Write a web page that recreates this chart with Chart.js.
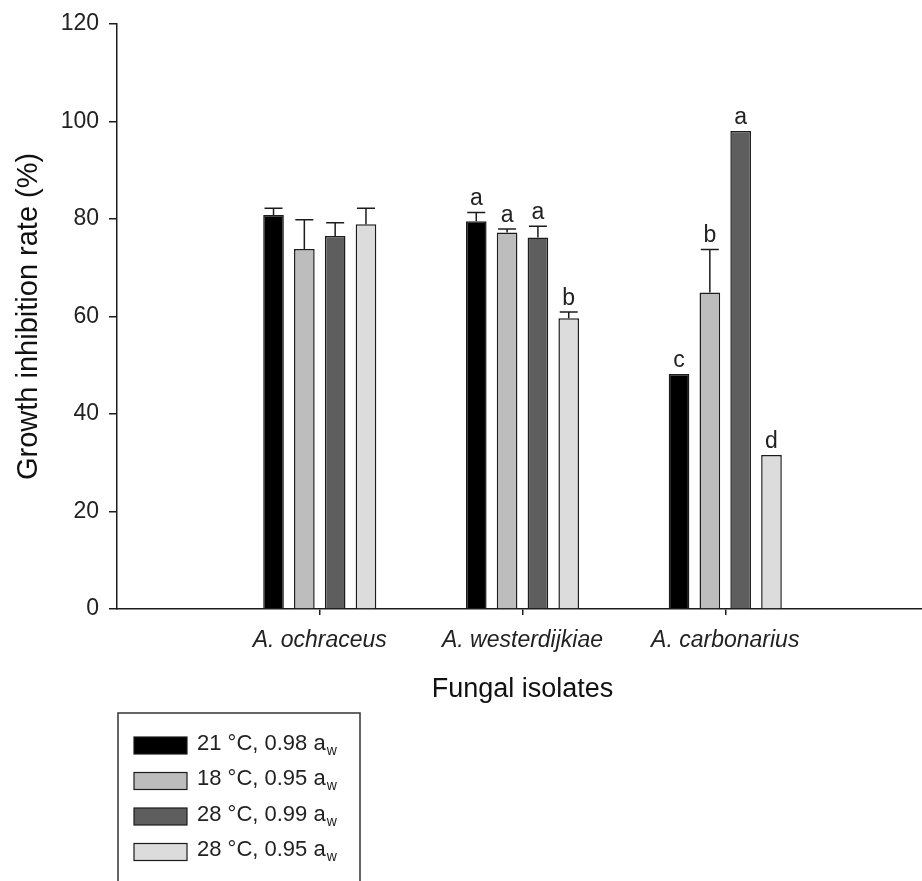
<!DOCTYPE html>
<html>
<head>
<meta charset="utf-8">
<script src="https://cdn.jsdelivr.net/npm/chart.js@4.4.0/dist/chart.umd.min.js"></script>
<style>
  html, body { margin: 0; padding: 0; background: #fff; overflow: hidden; }
  #wrap { width: 922px; height: 881px; overflow: hidden; }
  canvas { display: block; }
</style>
</head>
<body>
<div id="wrap"><canvas id="chart" width="940" height="881"></canvas></div>
<script>
// empty slots at both ends keep the three isolates at 1/4, 2/4, 3/4 of the axis
const isolates = ['', 'A. ochraceus', 'A. westerdijkiae', 'A. carbonarius', '']
const conditions = ['21 °C, 0.98 a', '18 °C, 0.95 a', '28 °C, 0.99 a', '28 °C, 0.95 a']
const SUB = 'w'

const rate21_098 = [null, 80.8, 79.5, 48.2, null]
const rate18_095 = [null, 73.8, 77.2, 64.9, null]
const rate28_099 = [null, 76.5, 76.2, 98.0, null]
const rate28_095 = [null, 78.9, 59.6, 31.6, null]

const err21_098 = [null, 1.4, 1.8, null, null]
const err18_095 = [null, 6.0, 0.7, 8.8, null]
const err28_099 = [null, 2.7, 2.3, null, null]
const err28_095 = [null, 3.3, 1.3, null, null]

const letters21_098 = ['', '', 'a', 'c', '']
const letters18_095 = ['', '', 'a', 'b', '']
const letters28_099 = ['', '', 'a', 'a', '']
const letters28_095 = ['', '', 'b', 'd', '']

const yTicks = [0, 20, 40, 60, 80, 100, 120]

const FILLS = ['#000000', '#bdbdbd', '#5e5e5e', '#dcdcdc']
const EDGE = '#1c1c1c'
const FONT = "'Liberation Sans', Arial, sans-serif"

const seriesValues = [rate21_098, rate18_095, rate28_099, rate28_095]
const seriesErrors = [err21_098, err18_095, err28_099, err28_095]
const seriesLetters = [letters21_098, letters18_095, letters28_099, letters28_095]

const errorBars = {
    id: 'errorBars',
    afterDatasetsDraw(chart) {
        const ctx = chart.ctx
        const y = chart.scales.y
        ctx.save()
        ctx.strokeStyle = EDGE
        ctx.lineWidth = 1.5
        ctx.fillStyle = '#222'
        ctx.font = '23px ' + FONT
        ctx.textAlign = 'center'
        ctx.textBaseline = 'bottom'
        chart.data.datasets.forEach((ds, i) => {
            const meta = chart.getDatasetMeta(i)
            meta.data.forEach((bar, j) => {
                const v = ds.data[j]
                if (v == null) return
                const e = seriesErrors[i][j]
                let top = bar.y
                if (e) {
                    top = y.getPixelForValue(v + e)
                    ctx.beginPath()
                    ctx.moveTo(bar.x, bar.y)
                    ctx.lineTo(bar.x, top)
                    ctx.moveTo(bar.x - 9, top)
                    ctx.lineTo(bar.x + 9, top)
                    ctx.stroke()
                }
                const letter = seriesLetters[i][j]
                if (letter) ctx.fillText(letter, bar.x, top - 2)
            })
        })
        ctx.restore()
    }
}

const boxLegend = {
    id: 'boxLegend',
    afterDraw(chart) {
        const ctx = chart.ctx
        ctx.save()
        ctx.strokeStyle = '#333'
        ctx.lineWidth = 1.5
        ctx.strokeRect(118, 713, 242, 200)
        conditions.forEach((label, i) => {
            const cy = 745.5 + i * 35.5
            ctx.fillStyle = FILLS[i]
            ctx.fillRect(134, cy - 8.5, 53, 17)
            ctx.strokeStyle = EDGE
            ctx.lineWidth = 1.2
            ctx.strokeRect(134, cy - 8.5, 53, 17)
            ctx.fillStyle = '#222'
            ctx.font = '22px ' + FONT
            ctx.textAlign = 'left'
            ctx.textBaseline = 'alphabetic'
            ctx.fillText(label, 197, cy + 4)
            const w = ctx.measureText(label).width
            ctx.font = '14px ' + FONT
            ctx.fillText(SUB, 197 + w + 1, cy + 9)
        })
        ctx.restore()
    }
}

const chart = new Chart(document.getElementById('chart'), {
    type: 'bar',
    data: {
        labels: isolates,
        datasets: seriesValues.map((vals, i) => ({
            label: conditions[i],
            data: vals,
            backgroundColor: FILLS[i],
            borderColor: EDGE,
            borderWidth: 1.5,
            categoryPercentage: 0.608,
            barPercentage: 0.67
        }))
    },
    options: {
        responsive: false,
        animation: false,
        layout: { padding: { top: 23, left: 0, right: 7, bottom: 0 } },
        plugins: {
            legend: { display: false },
            tooltip: { enabled: false }
        },
        scales: {
            x: {
                offset: false,
                grid: {
                    offset: false,
                    drawOnChartArea: false,
                    tickLength: 6,
                    tickColor: c => (isolates[c.index] ? EDGE : 'rgba(0,0,0,0)'),
                    lineWidth: 1.5
                },
                border: { color: EDGE, width: 1.5 },
                ticks: {
                    color: '#222',
                    padding: 12,
                    maxRotation: 0,
                    autoSkip: false,
                    font: { family: FONT, size: 23, style: 'italic' }
                },
                title: {
                    display: true,
                    text: 'Fungal isolates',
                    color: '#111',
                    font: { family: FONT, size: 27 },
                    padding: { top: 0, bottom: 175 }
                },
                afterFit: s => { s.height = 272 }
            },
            y: {
                min: 0,
                max: 120,
                afterBuildTicks: s => { s.ticks = yTicks.map(v => ({ value: v })) },
                grid: {
                    drawOnChartArea: false,
                    tickLength: 8,
                    tickColor: EDGE,
                    lineWidth: 1.5
                },
                border: { color: EDGE, width: 1.5 },
                ticks: {
                    color: '#222',
                    padding: 10,
                    font: { family: FONT, size: 23 }
                },
                title: {
                    display: true,
                    text: 'Growth inhibition rate (%)',
                    color: '#111',
                    font: { family: FONT, size: 29 },
                    padding: { top: 12, bottom: 0 }
                },
                afterFit: s => { s.width = 117 }
            }
        }
    },
    plugins: [errorBars, boxLegend]
})
</script>
</body>
</html>
